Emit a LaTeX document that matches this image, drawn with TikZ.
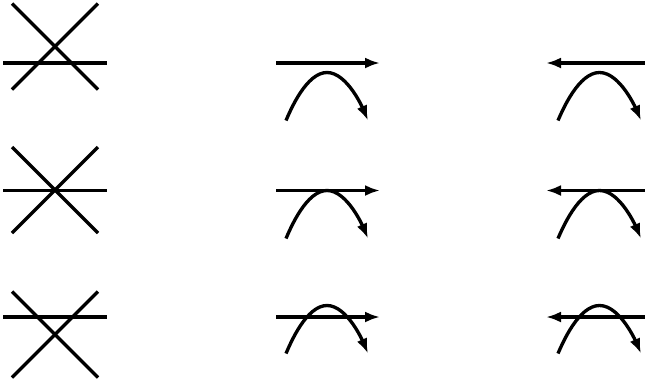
\documentclass[tikz,border=0pt]{standalone}
\usetikzlibrary{arrows.meta}
\begin{document}
\begin{tikzpicture}[
x=0.02cm, y=-0.02cm,
line/.style={line width=1.9pt},
arrow/.style={line width=1.9pt, -{Latex[length=0.3cm,width=0.22cm]}}
]
\useasboundingbox (0,0) rectangle (645,383);
% rows: horizontal line / crossing of the X / top of the arc
\foreach \yl/\yx/\ya in {63/46.5/72.5, 190.5/190/190.5, 317/334.5/305.5}{
  % left column
  \draw[line] (12,\yx-43) -- (98,\yx+43);
  \draw[line] (98,\yx-43) -- (12,\yx+43);
  \draw[line] (3,\yl) -- (107,\yl);
  % middle column
  \draw[arrow] (276,\yl) -- (380,\yl);
  \draw[arrow] (286,\ya+48) parabola bend (327,\ya) (368,\ya+48);
  % right column
  \draw[arrow] (645,\yl) -- (546,\yl);
  \draw[arrow] (558,\ya+48) parabola bend (599.5,\ya) (641,\ya+48);
}
\end{tikzpicture}
\end{document}
